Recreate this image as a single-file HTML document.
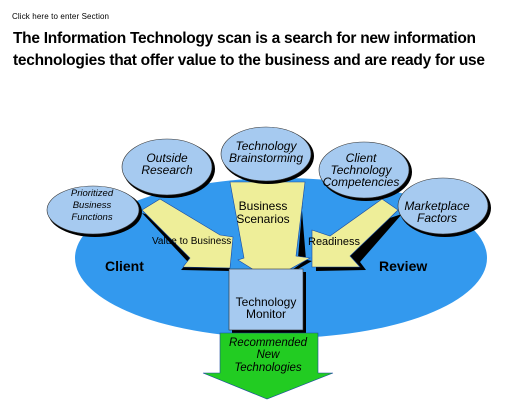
<!DOCTYPE html>
<html><head><meta charset="utf-8"><style>
html,body{margin:0;padding:0;background:#fff;width:511px;height:408px;overflow:hidden}
svg{display:block;font-family:"Liberation Sans",Arial,sans-serif}
</style></head><body>
<svg width="511" height="408" viewBox="0 0 511 408">
<text x="12" y="19" font-size="8" fill="#000" textLength="97">Click here to enter Section</text>
<g font-weight="bold" font-size="15.5" fill="#000">
<text x="13" y="43" textLength="463">The Information Technology scan is a search for new information</text>
<text x="13" y="65" textLength="472">technologies that offer value to the business and are ready for use</text>
</g>
<ellipse cx="281" cy="258" rx="206" ry="80" fill="#3399ee"/>
<text x="105" y="271" font-size="14" font-weight="bold" fill="#000">Client</text>
<text x="379" y="271" font-size="14" font-weight="bold" fill="#000">Review</text>
<g>
<polygon points="142,213 188,262 181,270 230,271 230,242" fill="#000"/>
<polygon points="142,210 160,199 220,235 233,237 230,268 183,267 190,258" fill="#eeee99" stroke="#1a4aa0" stroke-width="0.6"/>
</g>
<g>
<polygon points="304,186 298,258 312,261 272,284 306,260 300,186" fill="#000"/>
<polygon points="230,182 305,182 296,256 310,258 270,280 238,260 244,258" fill="#eeee99" stroke="#1a4aa0" stroke-width="0.6"/>
</g>
<g>
<polygon points="402,214 360,262 366,270 316,271 316,240 322,240" fill="#000"/>
<polygon points="398,210 382,199 330,236 312,230 312,267 360,267 350,256" fill="#eeee99" stroke="#1a4aa0" stroke-width="0.6"/>
</g>
<text x="152" y="244" font-size="10" fill="#000">Value to Business</text>
<text x="308" y="245" font-size="11" fill="#000">Readiness</text>
<text x="263" y="210" font-size="12" text-anchor="middle" fill="#000"><tspan x="263">Business</tspan><tspan x="263" dy="13">Scenarios</tspan></text>
<g>
<rect x="232" y="272" width="74" height="61" fill="#000"/>
<rect x="229" y="269" width="74" height="61" fill="#a6caf0" stroke="#333" stroke-width="0.6"/>
<text x="266" y="306" font-size="12" text-anchor="middle" fill="#000"><tspan x="266">Technology</tspan><tspan x="266" dy="12">Monitor</tspan></text>
</g>
<g>
<polygon points="220,333 318,333 318,373 333,373 267,399 203,373 220,373" fill="#22cc22" stroke="#1a4aa0" stroke-width="0.6"/>
<text x="268" y="346" font-size="11.5" font-style="italic" text-anchor="middle" fill="#000"><tspan x="268">Recommended</tspan><tspan x="268" dy="12">New</tspan><tspan x="268" dy="13">Technologies</tspan></text>
</g>
<g font-style="italic" fill="#000" text-anchor="middle">
<g>
<ellipse cx="95" cy="212" rx="47" ry="25" fill="#000"/>
<ellipse cx="93" cy="210" rx="46" ry="24" fill="#a6caf0" stroke="#333" stroke-width="0.6"/>
<text x="92" y="196" font-size="9.5"><tspan x="92">Prioritized</tspan><tspan x="92" dy="12">Business</tspan><tspan x="92" dy="12">Functions</tspan></text>
</g>
<g>
<ellipse cx="169" cy="169" rx="46" ry="29" fill="#000"/>
<ellipse cx="167" cy="167" rx="45" ry="28" fill="#a6caf0" stroke="#333" stroke-width="0.6"/>
<text x="167" y="162" font-size="12"><tspan x="167">Outside</tspan><tspan x="167" dy="12">Research</tspan></text>
</g>
<g>
<ellipse cx="268" cy="156" rx="46" ry="28" fill="#000"/>
<ellipse cx="266" cy="154" rx="45" ry="27" fill="#a6caf0" stroke="#333" stroke-width="0.6"/>
<text x="266" y="150" font-size="12"><tspan x="266">Technology</tspan><tspan x="266" dy="12">Brainstorming</tspan></text>
</g>
<g>
<ellipse cx="366" cy="172" rx="46" ry="29" fill="#000"/>
<ellipse cx="364" cy="170" rx="45" ry="28" fill="#a6caf0" stroke="#333" stroke-width="0.6"/>
<text x="361" y="162" font-size="12"><tspan x="361">Client</tspan><tspan x="361" dy="12">Technology</tspan><tspan x="361" dy="12">Competencies</tspan></text>
</g>
<g>
<ellipse cx="445" cy="208" rx="46" ry="29" fill="#000"/>
<ellipse cx="443" cy="206" rx="45" ry="28" fill="#a6caf0" stroke="#333" stroke-width="0.6"/>
<text x="437" y="210" font-size="12"><tspan x="437">Marketplace</tspan><tspan x="437" dy="12">Factors</tspan></text>
</g>
</g>
</svg>
</body></html>
